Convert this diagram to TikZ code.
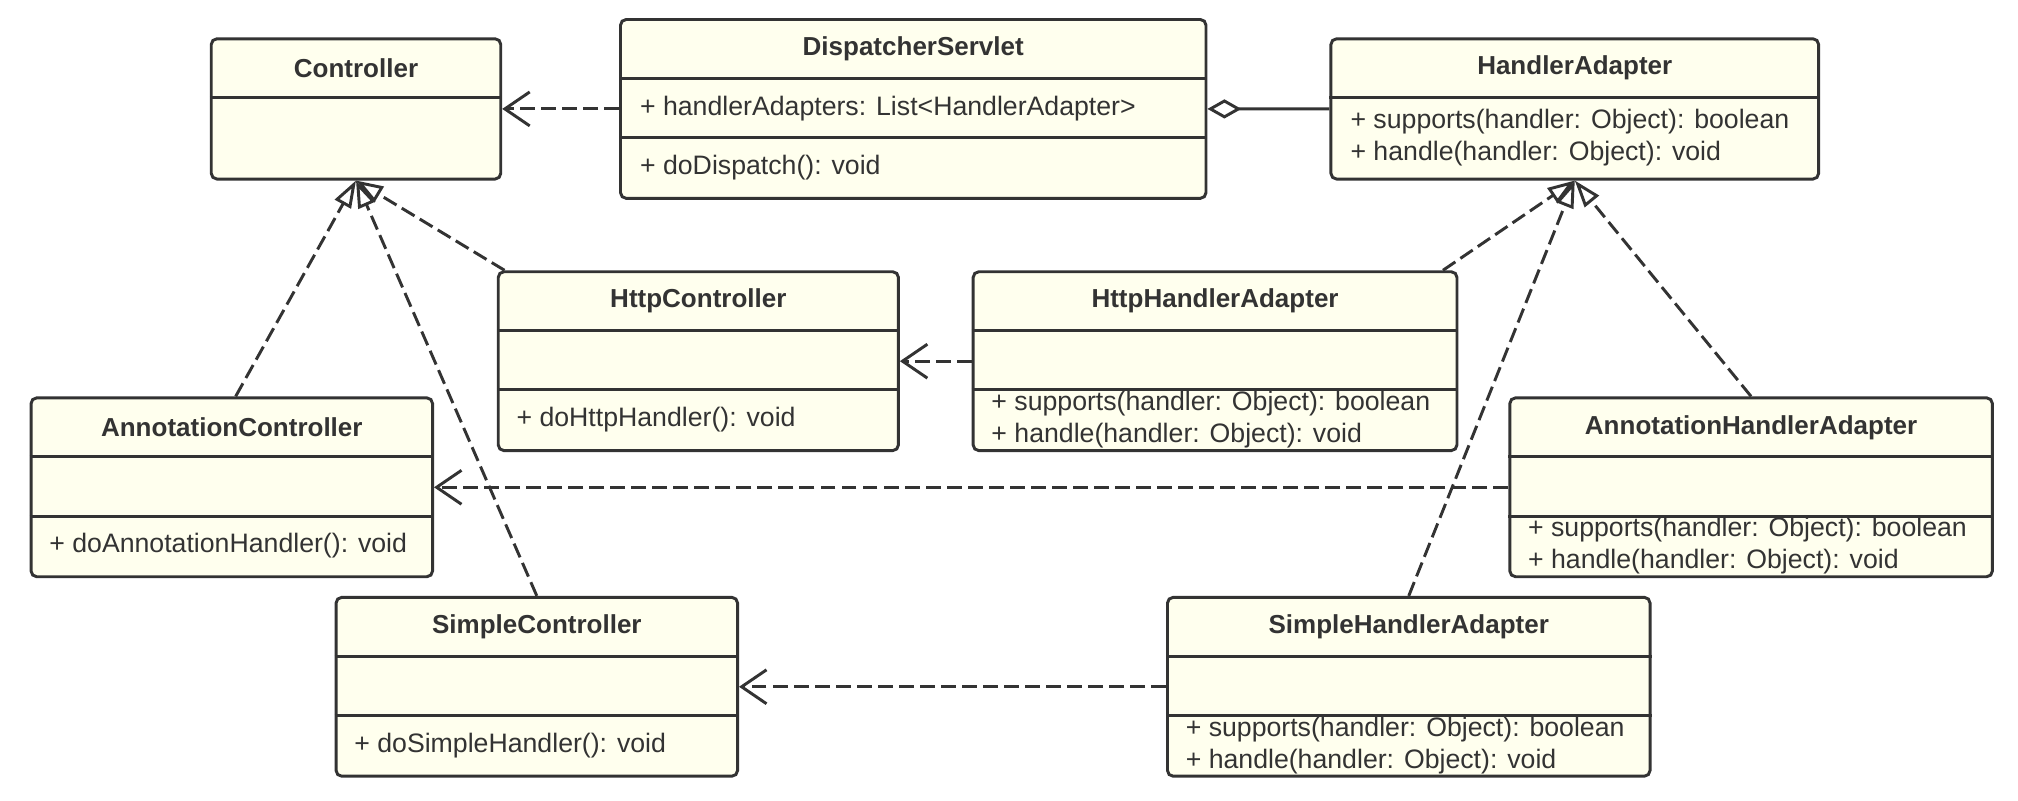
\documentclass[tikz,border=0pt]{standalone}
\usepackage{fontspec}
\setmainfont{Liberation Sans}
\usepackage{tikz}
\usetikzlibrary{positioning, calc, arrows.meta}
\definecolor{umlfill}{HTML}{FFFFEE}
\definecolor{umlline}{HTML}{333333}

\begin{document}
\begin{tikzpicture}[x=0.02cm, y=-0.02cm, text=umlline, font=\fontsize{11.8pt}{14.2pt}\selectfont]
    \tikzstyle{cls}=[draw=umlline, fill=umlfill, line width=1.3pt, rounded corners=2.5pt, anchor=north west, inner sep=0pt]
    \tikzstyle{short}=[cls, minimum height=2.18cm]
    \tikzstyle{tall}=[cls, minimum height=2.78cm]
    \tikzstyle{title}=[font=\fontsize{11.5pt}{14pt}\selectfont\bfseries, inner sep=0pt]
    \tikzstyle{member}=[anchor=west, align=left, inner sep=0pt]
    \tikzstyle{divider}=[draw=umlline, line width=1.3pt]
    \tikzstyle{dep}=[umlline, line width=1.3pt, dash pattern=on 6.6pt off 2.7pt, -{Straight Barb[length=11pt, width=15pt]}]
    \tikzstyle{realize}=[umlline, line width=1.3pt, dash pattern=on 6.6pt off 2.7pt, -{Triangle[length=12pt, width=8pt, fill=white]}]
    \tikzstyle{aggr}=[umlline, line width=1.3pt, {Diamond[length=15pt, width=8.5pt, fill=white]}-]

    \useasboundingbox (0,0) rectangle (1568,622);

    % Top row
    \node[short, minimum width=4.5cm]  (ctrl)  at (163,29)  {};
    \node[tall,  minimum width=9.1cm]  (disp)  at (481,14)  {};
    \node[short, minimum width=7.58cm] (hadp)  at (1033,29) {};

    % Middle rows
    \node[tall, minimum width=6.22cm] (httpc) at (386,210)  {};
    \node[tall, minimum width=7.52cm] (httpa) at (755,210)  {};
    \node[tall, minimum width=6.24cm] (annc)  at (23,308)   {};
    \node[tall, minimum width=7.5cm]  (anna)  at (1172,308) {};

    % Bottom row
    \node[tall, minimum width=6.24cm] (simc)  at (260,463)  {};
    \node[tall, minimum width=7.5cm]  (sima)  at (906,463)  {};

    % Compartment lines
    \foreach \c in {ctrl, disp, hadp, httpc, httpa, annc, anna, simc, sima}
        \draw[divider] ($(\c.north west)+(0,47)$) -- ($(\c.north east)+(0,47)$);
    \foreach \c in {disp, httpc, httpa, annc, anna, simc, sima}
        \draw[divider] ($(\c.north west)+(0,93)$) -- ($(\c.north east)+(0,93)$);

    % Class names
    \foreach \c/\t in {ctrl/Controller, disp/DispatcherServlet, hadp/HandlerAdapter,
        httpc/HttpController, httpa/HttpHandlerAdapter, annc/AnnotationController,
        anna/AnnotationHandlerAdapter, simc/SimpleController, sima/SimpleHandlerAdapter}
        \node[title] (\c-t) at ($(\c.north)+(0,24)$) {\t};

    % Attributes and operations
    \node[member] (disp-a)  at ($(disp.north west)+(16,70)$)   {+ handlerAdapters: List<HandlerAdapter>};
    \node[member] (disp-m)  at ($(disp.north west)+(16,116)$)  {+ doDispatch(): void};
    \node[member] (hadp-m)  at ($(hadp.north west)+(16,78)$)   {+ supports(handler: Object): boolean\\+ handle(handler: Object): void};
    \node[member] (httpc-m) at ($(httpc.north west)+(15,116)$) {+ doHttpHandler(): void};
    \node[member] (httpa-m) at ($(httpa.north west)+(15,116)$) {+ supports(handler: Object): boolean\\+ handle(handler: Object): void};
    \node[member] (annc-m)  at ($(annc.north west)+(15,116)$)  {+ doAnnotationHandler(): void};
    \node[member] (anna-m)  at ($(anna.north west)+(15,116)$)  {+ supports(handler: Object): boolean\\+ handle(handler: Object): void};
    \node[member] (simc-m)  at ($(simc.north west)+(15,116)$)  {+ doSimpleHandler(): void};
    \node[member] (sima-m)  at ($(sima.north west)+(15,116)$)  {+ supports(handler: Object): boolean\\+ handle(handler: Object): void};

    % Dependencies and aggregation
    \draw[dep] (disp.west) -- (disp.west -| ctrl.east);
    \draw[aggr] (disp.east) -- (hadp.west);
    \draw[dep] (httpa.west) -- (httpa.west -| httpc.east);
    \draw[dep] (anna.west) -- (anna.west -| annc.east);
    \draw[dep] (sima.west) -- (sima.west -| simc.east);

    % Realizations
    \draw[realize] ($(httpc.north west)+(6,0)$) -- (ctrl.south);
    \draw[realize] ($(annc.north)+(3,0)$) -- (ctrl.south);
    \draw[realize] (simc.north) -- (ctrl.south);
    \draw[realize] ($(httpa.north east)+(-12,0)$) -- (hadp.south);
    \draw[realize] (anna.north) -- (hadp.south);
    \draw[realize] (sima.north) -- (hadp.south);
\end{tikzpicture}
\end{document}
